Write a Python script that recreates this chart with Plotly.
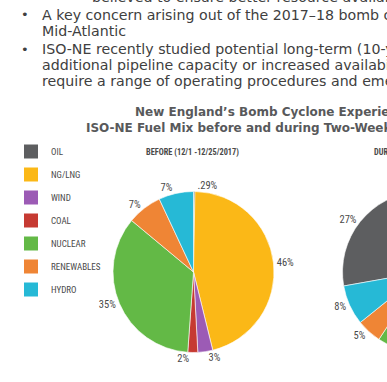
import plotly.graph_objects as go

# ---------------- data ----------------
categories = ["OIL", "NG/LNG", "WIND", "COAL", "NUCLEAR", "RENEWABLES", "HYDRO"]
colors = ["#5d5e60", "#fbb817", "#9c5bb5", "#c63a32", "#63b946", "#ef8535", "#26b9d6"]

before_values = [0.29, 46, 3, 2, 35, 7, 7]
before_labels = [".29%", "46%", "3%", "2%", "35%", "7%", "7%"]

during_values = [27, 23, 4, 6, 27, 5, 8]
during_labels = ["27%", "23%", "4%", "6%", "27%", "5%", "8%"]

body_lines = [
    "believed to ensure better resource availability",
    "A key concern arising out of the 2017\u201318 bomb cyclone",
    "Mid-Atlantic",
    "ISO-NE recently studied potential long-term (10-year)",
    "additional pipeline capacity or increased availability",
    "require a range of operating procedures and emergency",
]
title_lines = [
    "New England\u2019s Bomb Cyclone Experience",
    "ISO-NE Fuel Mix before and during Two-Week Cold Snap",
]
pie_titles = ["BEFORE (12/1 -12/25/2017)", "DURING (12/25/2017 - 1/8/2018)"]

# ---------------- layout helpers ----------------
W, H = 774, 382
def px(x):
    return x / W
def py(y):
    return 1 - y / H

COND = ("Roboto Condensed, Open Sans Condensed, Noto Sans Condensed, "
        "Liberation Sans Narrow, DejaVu Sans Condensed, sans-serif")
BODY = "DejaVu Sans, Open Sans, sans-serif"

fig = go.Figure()

fig.add_trace(go.Pie(
    values=before_values, labels=categories, text=before_labels,
    textinfo="text", textposition="outside", sort=False, direction="clockwise",
    rotation=0,
    marker=dict(colors=colors, line=dict(color="white", width=0.6)),
    outsidetextfont=dict(family=COND, size=10.5, color="#4a4a4a"),
    domain=dict(x=[px(113), px(274)], y=[py(352.5), py(191.5)]),
    showlegend=False, hoverinfo="label+percent",
))
fig.add_trace(go.Pie(
    values=during_values, labels=categories, text=during_labels,
    textinfo="text", textposition="outside", sort=False, direction="clockwise",
    rotation=-100,
    marker=dict(colors=colors, line=dict(color="white", width=0.6)),
    outsidetextfont=dict(family=COND, size=10.5, color="#4a4a4a"),
    domain=dict(x=[px(342.5), px(503.5)], y=[py(352.5), py(191.5)]),
    showlegend=False, hoverinfo="label+percent",
))

# legend entries
for cat, col in zip(categories, colors):
    fig.add_trace(go.Scatter(
        x=[None], y=[None], mode="markers", name=cat, legendgroup=cat,
        marker=dict(symbol="square", size=14, color=col),
        showlegend=True, hoverinfo="skip",
    ))

ann = []
body_y = [-3, 15, 31, 49, 65, 81]
body_x = [90, 40, 40, 40, 40, 40]
for t, x, y in zip(body_lines, body_x, body_y):
    ann.append(dict(text=t, x=px(x), y=py(y), xref="paper", yref="paper",
                    xanchor="left", yanchor="middle", showarrow=False,
                    font=dict(family=BODY, size=14.2, color="#404040")))
for y in [15, 49]:
    ann.append(dict(text="\u2022", x=px(24.5), y=py(y), xref="paper", yref="paper",
                    xanchor="center", yanchor="middle", showarrow=False,
                    font=dict(family=BODY, size=13, color="#404040")))
for t, x, y in zip(title_lines, [133, 84], [112, 128]):
    ann.append(dict(text="<b>" + t + "</b>", x=px(x), y=py(y), xref="paper", yref="paper",
                    xanchor="left", yanchor="middle", showarrow=False,
                    font=dict(family=BODY, size=12, color="#58595b")))
ann.append(dict(text="<b>" + pie_titles[0] + "</b>", x=px(192), y=py(152),
                xref="paper", yref="paper", xanchor="center", yanchor="middle",
                showarrow=False, font=dict(family=COND, size=8.3, color="#4a4a4a")))
ann.append(dict(text="<b>" + pie_titles[1] + "</b>", x=px(372), y=py(152),
                xref="paper", yref="paper", xanchor="left", yanchor="middle",
                showarrow=False, font=dict(family=COND, size=8.3, color="#4a4a4a")))

fig.update_layout(
    width=W, height=H, autosize=False,
    margin=dict(l=0, r=0, t=0, b=0),
    paper_bgcolor="white", plot_bgcolor="white",
    xaxis=dict(visible=False), yaxis=dict(visible=False),
    annotations=ann,
    legend=dict(x=px(11), y=py(137), xanchor="left", yanchor="top",
                tracegroupgap=4, traceorder="grouped",
                font=dict(family=COND, size=9, color="#4a4a4a"),
                bgcolor="rgba(0,0,0,0)"),
)

fig.write_html(
    "out.html",
    include_plotlyjs=True,
    post_script="document.body.style.margin='0';document.body.style.overflow='hidden';document.documentElement.style.overflow='hidden';",
)
